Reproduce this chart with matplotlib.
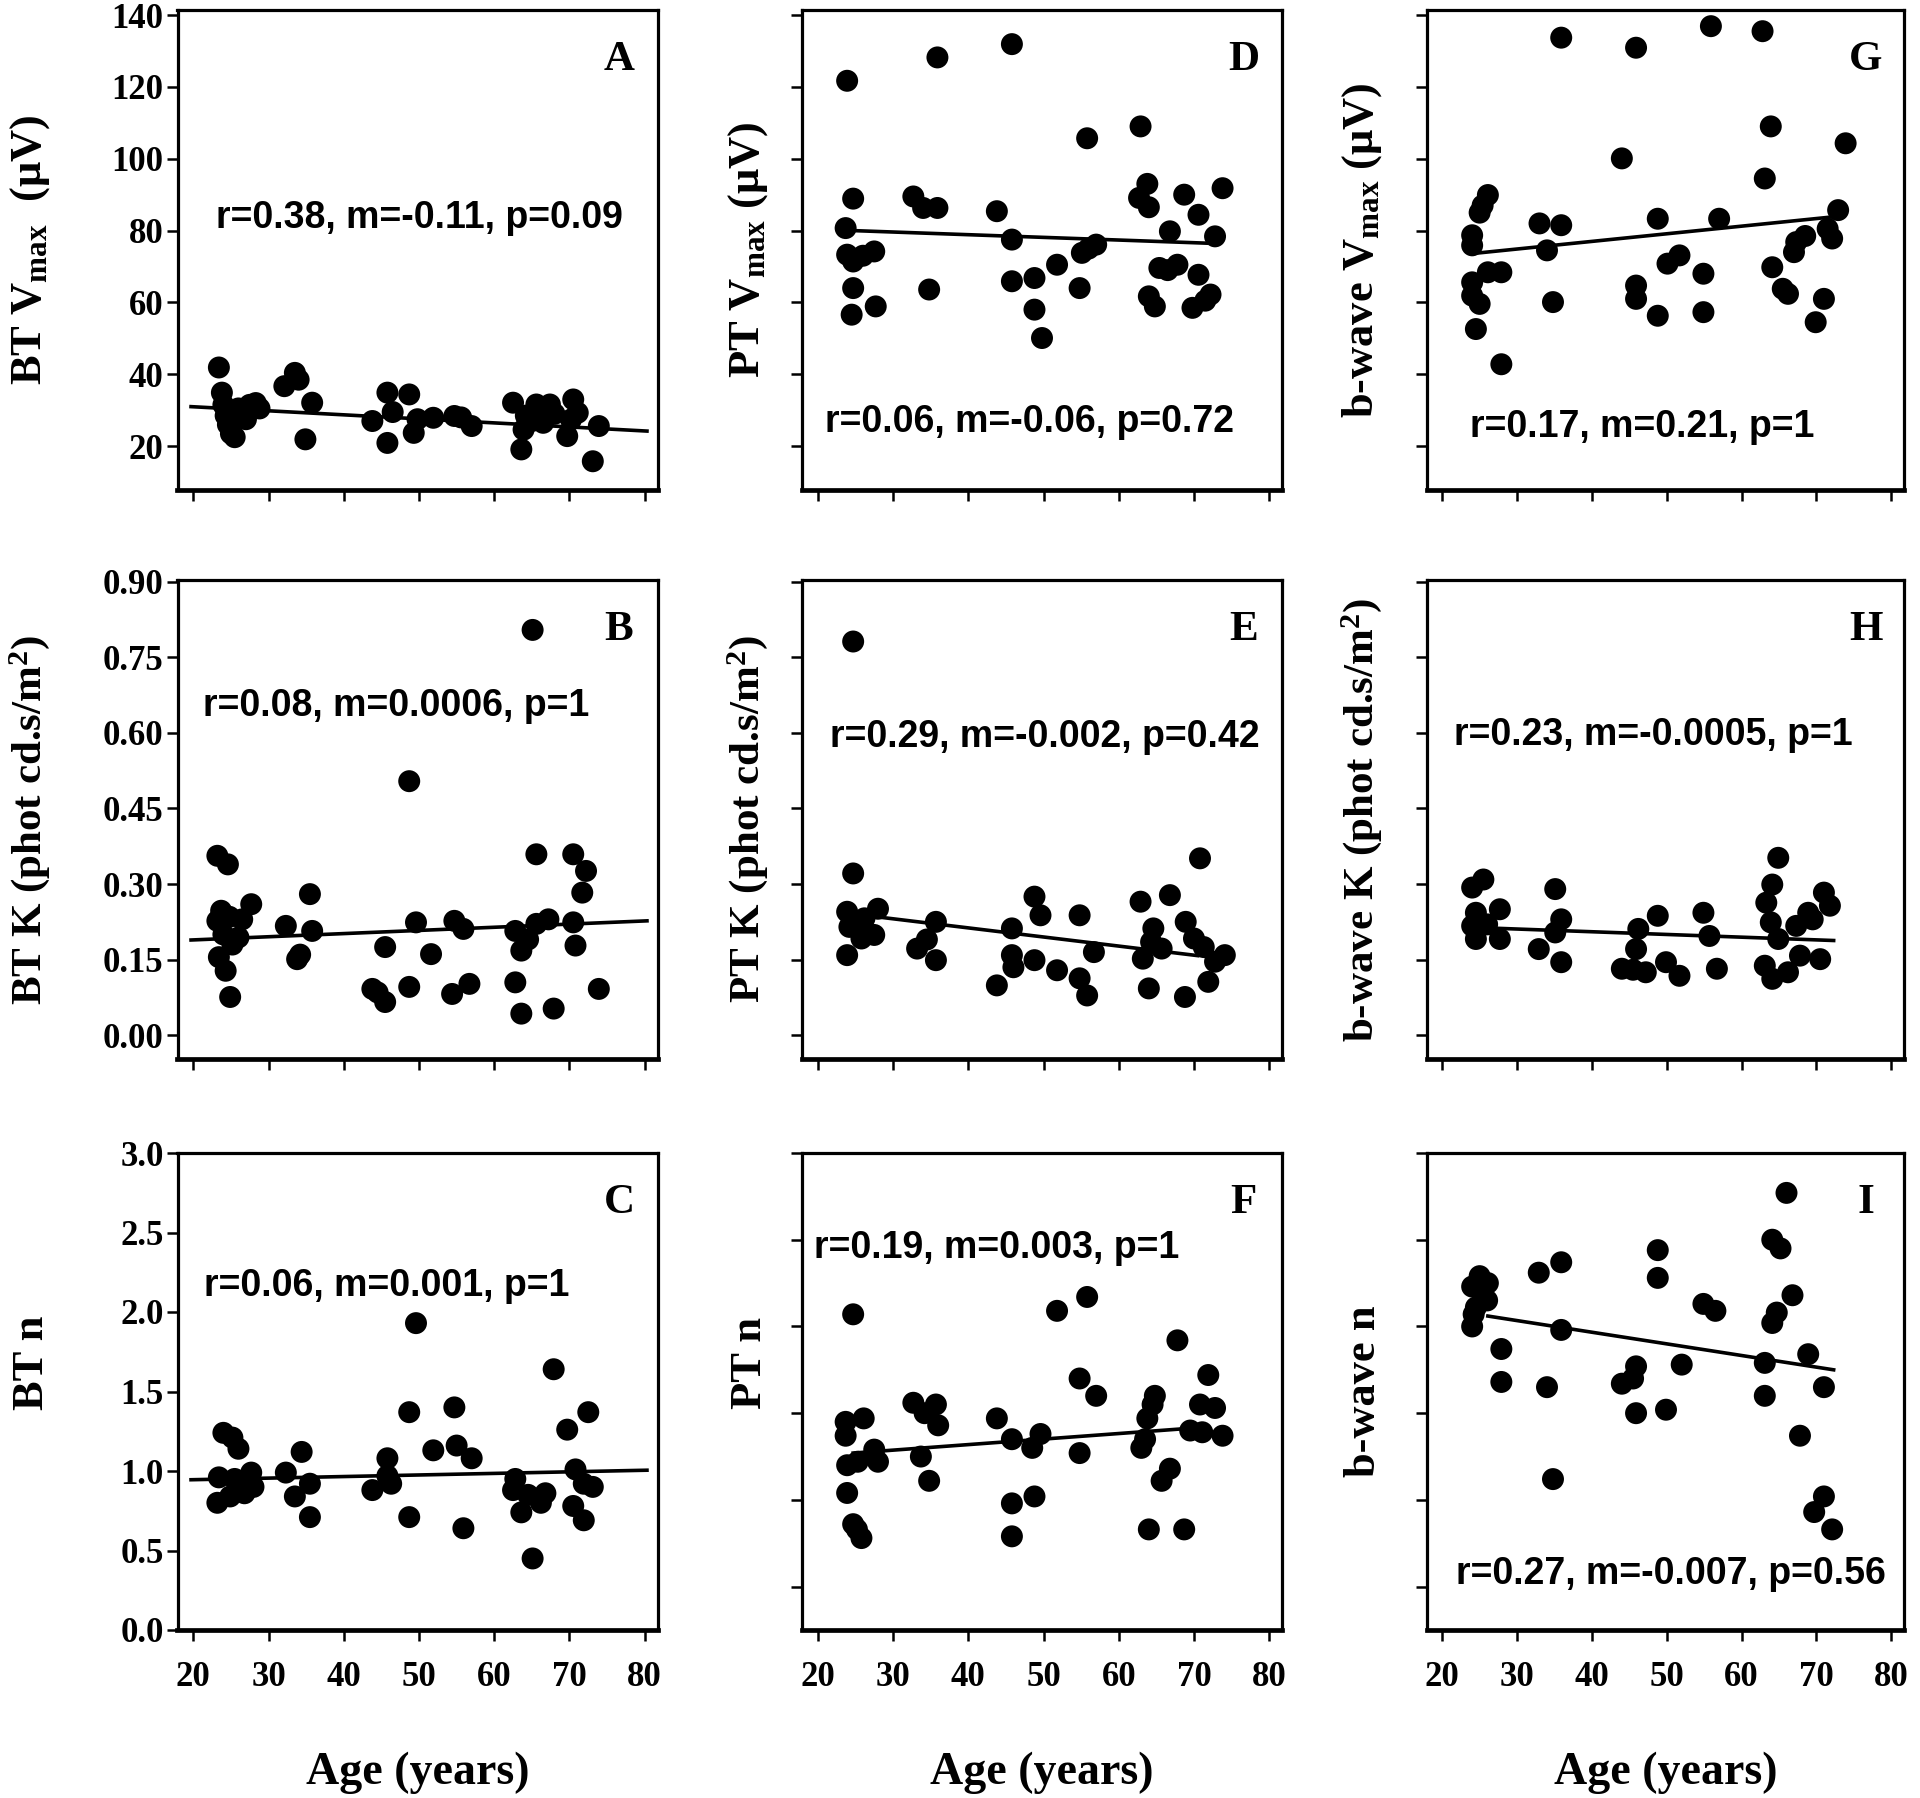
import matplotlib
matplotlib.use("Agg")
import matplotlib.pyplot as plt
import numpy as np

# ---------------- data ----------------
A_age = [23.4, 23.8, 24.0, 24.3, 24.6, 25.0, 25.5, 26.0, 26.8, 27.5, 28.3, 28.8, 27.0,
         32.1, 33.5, 34.0, 35.8, 34.9,
         43.8, 45.8, 45.8, 46.5, 48.7, 49.3, 49.8, 51.9, 54.7, 55.6, 57.0,
         62.5, 63.6, 63.9, 64.2, 65.6, 65.0, 67.4, 68.0, 69.7, 70.2, 70.5, 71.1, 73.9, 73.1, 66.5]
A_val = [41.9, 34.9, 31.5, 28.5, 26.0, 23.5, 22.5, 30.5, 29.0, 31.5, 32.0, 30.5, 27.5,
         36.7, 40.4, 38.5, 32.1, 21.9,
         27.0, 34.9, 20.9, 29.5, 34.4, 23.7, 27.5, 27.9, 28.4, 28.0, 25.6,
         32.1, 19.1, 24.6, 28.5, 31.6, 27.0, 31.6, 29.0, 22.8, 27.4, 33.0, 29.3, 25.6, 15.8, 26.5]

B_age = [65.1, 48.7, 23.2, 24.6, 35.5,
         23.7, 24.8, 27.7, 23.2, 26.0, 26.5, 23.4, 24.3, 24.9, 25.2, 24.0,
         32.3, 35.8, 33.8, 34.2,
         45.5, 43.8, 45.5, 44.5, 48.7, 49.6, 51.6, 54.7, 55.9, 54.4, 56.7,
         62.8, 62.8, 63.6, 63.6, 65.6, 64.5, 65.6, 67.9, 67.2, 70.5, 70.8, 70.5, 72.2, 71.7, 73.9]
B_val = [0.804, 0.504, 0.356, 0.339, 0.280,
         0.247, 0.235, 0.260, 0.227, 0.194, 0.230, 0.155, 0.128, 0.076, 0.180, 0.200,
         0.217, 0.207, 0.151, 0.160,
         0.175, 0.092, 0.066, 0.085, 0.096, 0.224, 0.161, 0.227, 0.211, 0.082, 0.102,
         0.105, 0.207, 0.168, 0.043, 0.221, 0.190, 0.359, 0.053, 0.230, 0.224, 0.178, 0.359, 0.326, 0.283, 0.092]

C_age = [49.6, 67.9, 48.7, 54.7, 72.5, 69.7,
         24.0, 25.2, 26.0, 34.4,
         45.8, 51.9, 55.0, 57.0,
         23.4, 23.2, 24.9, 26.3, 27.7, 28.0, 25.5, 26.8,
         32.3, 33.5, 35.5, 35.5,
         43.8, 45.8, 46.3, 48.7, 55.9,
         62.8, 63.6, 65.1, 66.2, 66.8, 64.5, 62.5, 70.8, 71.9, 73.1, 70.5, 71.9]
C_val = [1.93, 1.64, 1.37, 1.40, 1.37, 1.26,
         1.24, 1.21, 1.14, 1.12,
         1.08, 1.13, 1.16, 1.08,
         0.96, 0.80, 0.84, 0.92, 0.99, 0.90, 0.95, 0.86,
         0.99, 0.84, 0.92, 0.71,
         0.88, 0.97, 0.92, 0.71, 0.64,
         0.95, 0.74, 0.45, 0.80, 0.86, 0.85, 0.88, 1.01, 0.92, 0.90, 0.78, 0.69]

D_age = [23.9, 35.9, 45.8, 55.8, 62.9,
         24.7, 32.7, 34.0, 35.9, 43.8,
         63.8, 62.7, 64.0, 68.7, 70.6, 73.8, 72.8, 66.8,
         23.7, 23.9, 24.7, 27.5, 26.0,
         24.7, 24.5, 27.7, 34.8,
         45.8, 45.8, 48.8, 48.8, 49.8, 51.8,
         54.8, 55.1, 57.0, 56.0,
         64.0, 64.8, 65.4, 67.8, 66.5, 69.8, 70.6, 72.2, 71.5]
D_val = [121.7, 128.2, 131.9, 105.7, 109.0,
         88.9, 89.5, 86.3, 86.3, 85.4,
         93.0, 89.1, 86.5, 90.0, 84.4, 91.8, 78.4, 79.8,
         80.7, 73.3, 71.4, 74.2, 73.0,
         64.0, 56.6, 58.9, 63.6,
         77.5, 65.9, 66.8, 58.0, 50.1, 70.5,
         64.0, 73.8, 76.1, 75.0,
         61.7, 58.9, 69.6, 70.5, 69.0, 58.5, 67.7, 62.2, 60.5]

E_age = [24.7, 24.7, 70.8,
         23.9, 23.9, 25.8, 28.0, 27.5, 24.2, 26.2,
         35.7, 33.2, 35.7, 34.5,
         48.8, 49.6, 54.8, 45.8,
         43.8, 45.8, 46.0, 48.8, 51.8, 54.8, 55.8, 56.7,
         62.9, 66.8, 64.6, 68.9, 70.0, 63.2, 65.7, 64.0, 68.8, 71.9, 74.1, 72.8, 71.3, 64.3]
E_val = [0.781, 0.321, 0.351,
         0.245, 0.159, 0.192, 0.251, 0.199, 0.215, 0.232,
         0.225, 0.172, 0.149, 0.190,
         0.275, 0.238, 0.238, 0.212,
         0.099, 0.159, 0.135, 0.149, 0.129, 0.113, 0.079, 0.165,
         0.265, 0.278, 0.212, 0.225, 0.192, 0.152, 0.172, 0.093, 0.076, 0.106, 0.159, 0.146, 0.175, 0.185]

F_age = [24.7, 51.8, 55.8, 67.8, 54.8, 57.0, 71.9,
         64.8, 64.5, 63.8, 63.5, 63.0,
         32.7, 35.7, 36.0, 34.2,
         43.8, 45.8, 49.6, 48.5,
         23.7, 23.7, 26.1, 27.5, 28.0, 23.9, 25.3,
         33.7, 34.8, 54.8,
         70.8, 72.8, 69.5, 71.1, 73.8,
         66.8, 65.7, 23.9, 24.7, 25.8, 25.2,
         45.8, 48.8, 45.8, 64.0, 68.7]
F_val = [2.07, 2.09, 2.17, 1.92, 1.70, 1.60, 1.72,
         1.60, 1.55, 1.47, 1.35, 1.30,
         1.56, 1.55, 1.43, 1.50,
         1.47, 1.35, 1.38, 1.30,
         1.45, 1.37, 1.47, 1.29, 1.22, 1.20, 1.22,
         1.25, 1.11, 1.27,
         1.55, 1.53, 1.40, 1.39, 1.37,
         1.18, 1.11, 1.04, 0.86, 0.78, 0.83,
         0.98, 1.02, 0.79, 0.83, 0.83]

G_age = [35.9, 45.9, 55.9, 62.8, 63.9, 73.9, 44.0, 63.1,
         26.1, 25.4, 25.0, 72.9, 72.1, 71.5,
         33.0, 35.9, 48.8, 57.0,
         24.0, 24.0, 34.0, 67.3, 67.0, 68.5,
         64.1, 65.5, 66.2, 51.7, 50.1, 54.9,
         24.0, 27.9, 26.1, 24.0, 25.0, 24.5, 34.8, 45.9, 45.9, 48.8, 54.9, 71.0, 69.9, 27.9]
G_val = [133.7, 130.9, 136.9, 135.5, 109.0, 104.3, 100.1, 94.5,
         89.9, 87.0, 85.0, 85.7, 77.8, 80.5,
         82.0, 81.5, 83.3, 83.3,
         78.7, 75.9, 74.5, 76.8, 74.0, 78.5,
         69.8, 63.8, 62.4, 73.1, 70.8, 68.0,
         65.6, 68.4, 68.4, 61.9, 59.6, 52.6, 60.1, 64.7, 61.0, 56.3, 57.3, 61.0, 54.5, 42.8]

H_age = [25.5, 24.0, 35.1, 27.7, 24.5, 24.0, 24.5, 27.7, 26.0,
         35.9, 35.1, 32.9, 35.9,
         48.8, 46.2, 45.9, 44.0, 47.2, 49.9, 51.7, 45.5,
         54.9, 55.7, 56.7,
         64.9, 64.1, 63.3, 63.9, 64.9, 63.1, 64.1, 66.2, 67.8, 67.3, 68.9, 71.0, 71.8, 70.5, 69.5]
H_val = [0.309, 0.293, 0.290, 0.250, 0.243, 0.217, 0.191, 0.191, 0.220,
         0.230, 0.204, 0.171, 0.145,
         0.237, 0.211, 0.171, 0.132, 0.125, 0.145, 0.118, 0.130,
         0.243, 0.197, 0.132,
         0.352, 0.299, 0.263, 0.224, 0.191, 0.138, 0.112, 0.125, 0.158, 0.217, 0.243, 0.283, 0.257, 0.151, 0.230]

I_age = [66.0, 64.1, 65.2, 48.8, 48.8, 32.9, 35.9,
         25.0, 24.0, 26.1, 24.5, 24.0, 25.5, 26.0, 24.2,
         35.9, 54.9, 56.5, 66.8, 64.7, 64.1,
         27.9, 27.9, 34.0, 45.9, 44.0, 45.5, 52.0,
         45.9, 49.9, 63.1, 63.1, 68.9, 71.0, 67.8, 34.8, 71.0, 69.7, 72.1]
I_val = [2.77, 2.50, 2.45, 2.44, 2.28, 2.31, 2.37,
         2.29, 2.23, 2.25, 2.11, 2.00, 2.18, 2.15, 2.07,
         1.98, 2.13, 2.09, 2.18, 2.08, 2.02,
         1.87, 1.68, 1.65, 1.77, 1.67, 1.70, 1.78,
         1.50, 1.52, 1.79, 1.60, 1.84, 1.65, 1.37, 1.12, 1.02, 0.93, 0.83]

# regression line end points
fit_x = {"A": [19.7, 80.3], "B": [19.7, 80.3], "C": [19.7, 80.3],
         "D": [24.7, 71.7], "E": [24.5, 70.5], "F": [24.7, 71.7],
         "G": [24.0, 72.1], "H": [24.0, 72.3], "I": [26.1, 72.3]}
fit_y = {"A": [31.0, 24.2], "B": [0.189, 0.227], "C": [0.945, 1.005],
         "D": [80.0, 76.5], "E": [0.241, 0.158], "F": [1.27, 1.42],
         "G": [73.6, 83.8], "H": [0.214, 0.188], "I": [2.06, 1.75]}

stats = {"A": "r=0.38, m=-0.11, p=0.09", "B": "r=0.08, m=0.0006, p=1",
         "C": "r=0.06, m=0.001, p=1", "D": "r=0.06, m=-0.06, p=0.72",
         "E": "r=0.29, m=-0.002, p=0.42", "F": "r=0.19, m=0.003, p=1",
         "G": "r=0.17, m=0.21, p=1", "H": "r=0.23, m=-0.0005, p=1",
         "I": "r=0.27, m=-0.007, p=0.56"}

ylabels = {"A": "BT V$_{\\mathrm{max}}$  (μV)", "B": "BT K (phot cd.s/m$^{\\mathrm{2}}$)", "C": "BT n",
           "D": "PT V$_{\\mathrm{max}}$ (μV)", "E": "PT K (phot cd.s/m$^{\\mathrm{2}}$)", "F": "PT n",
           "G": "b-wave V$_{\\mathrm{max}}$ (μV)", "H": "b-wave K (phot cd.s/m$^{\\mathrm{2}}$)", "I": "b-wave n"}

x_ticks = [20, 30, 40, 50, 60, 70, 80]
row1_ticks = [20, 40, 60, 80, 100, 120, 140]
row2_ticks = [0.00, 0.15, 0.30, 0.45, 0.60, 0.75, 0.90]
row3_ticks = [0.0, 0.5, 1.0, 1.5, 2.0, 2.5, 3.0]

data = {"A": (A_age, A_val), "B": (B_age, B_val), "C": (C_age, C_val),
        "D": (D_age, D_val), "E": (E_age, E_val), "F": (F_age, F_val),
        "G": (G_age, G_val), "H": (H_age, H_val), "I": (I_age, I_val)}

# ---------------- style ----------------
plt.rcParams['font.family'] = ['Liberation Serif', 'DejaVu Serif']
plt.rcParams['font.weight'] = 'bold'
plt.rcParams['mathtext.fontset'] = 'custom'
plt.rcParams['mathtext.rm'] = 'Liberation Serif'
plt.rcParams['mathtext.bf'] = 'Liberation Serif:bold'
plt.rcParams['mathtext.it'] = 'Liberation Serif:italic'

fig = plt.figure(figsize=(19.2, 17.98), dpi=100)
W, H = 1920, 1798
col_left = [177.5, 802, 1426.5]
col_w = [480, 480, 477.5]
row_top = [10, 580, 1153]
row_bot = [490, 1059, 1630]

layout = [["A", "D", "G"], ["B", "E", "H"], ["C", "F", "I"]]
ylims = [(7.8, 141.4), (-0.047, 0.903), (0.0, 3.0)]
row_ticks = [row1_ticks, row2_ticks, row3_ticks]
row_fmt = ["{:.0f}", "{:.2f}", "{:.1f}"]

stat_pos = {"A": (0.505, 0.567), "B": (0.456, 0.736), "C": (0.435, 0.721),
            "D": (0.473, 0.141), "E": (0.505, 0.672), "F": (0.405, 0.80),
            "G": (0.452, 0.132), "H": (0.474, 0.676), "I": (0.511, 0.118)}
ylab_x = [-0.262, -0.066, -0.090]

for r in range(3):
    for c in range(3):
        key = layout[r][c]
        left = col_left[c] / W
        bottom = 1 - row_bot[r] / H
        width = col_w[c] / W
        height = (row_bot[r] - row_top[r]) / H
        ax = fig.add_axes([left, bottom, width, height])
        xs, ys = data[key]
        ax.scatter(xs, ys, s=250, color='black', edgecolors='none', zorder=3)
        ax.plot(fit_x[key], fit_y[key], color='black', lw=2.6, zorder=2)

        ax.set_xlim(17.9, 81.7)
        if key in ("F", "I"):
            ax.set_ylim(0.25, 3.0)
            ax.set_yticks([0.5, 1.0, 1.5, 2.0, 2.5, 3.0])
        else:
            ax.set_ylim(*ylims[r])
            ax.set_yticks(row_ticks[r])
        ax.set_xticks(x_ticks)

        if c == 0:
            ax.set_yticklabels([row_fmt[r].format(t) for t in row_ticks[r]],
                               fontsize=25, fontweight='bold')
        else:
            ax.set_yticklabels([])
        if r == 2:
            ax.set_xticklabels([str(t) for t in x_ticks], fontsize=25, fontweight='bold')
            ax.set_xlabel("Age (years)", fontsize=33, fontweight='bold', labelpad=42)
        else:
            ax.set_xticklabels([])

        for sp in ax.spines.values():
            sp.set_linewidth(2.3)
        ax.spines['bottom'].set_linewidth(3.4)
        ax.tick_params(axis='y', direction='out', length=8, width=1.8, pad=2)
        ax.tick_params(axis='x', direction='out', length=8, width=1.8, pad=14)

        ylab_fs = 32 if r != 1 else 31
        ax.set_ylabel(ylabels[key], fontsize=ylab_fs, fontweight='bold')
        ly = 0.5
        if key in ("C", "F"):
            ly = 0.56
        ax.yaxis.set_label_coords(ylab_x[c], ly)

        sx, sy = stat_pos[key]
        ax.text(sx, sy, stats[key], transform=ax.transAxes, ha='center', va='center',
                fontsize=27, fontweight='bold', family=['Liberation Sans', 'DejaVu Sans'])
        ax.text(0.92, 0.895, key, transform=ax.transAxes, ha='center', va='center',
                fontsize=31, fontweight='bold')

fig.savefig("out.png", dpi=100)
